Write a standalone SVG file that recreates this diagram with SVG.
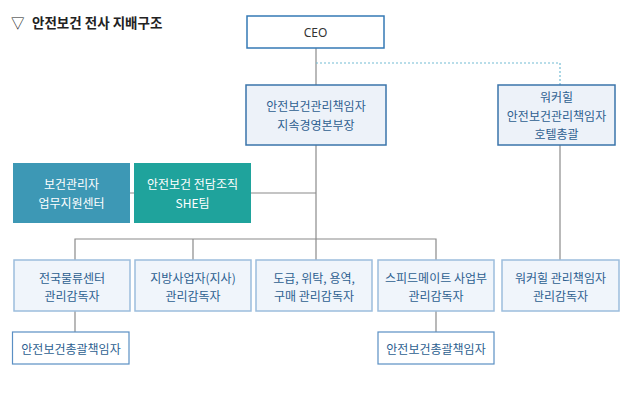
<svg xmlns="http://www.w3.org/2000/svg" width="641" height="410" viewBox="0 0 641 410">
<style>
text{font-family:"Noto Sans CJK KR","Noto Sans",sans-serif;font-size:12px;text-anchor:middle;dominant-baseline:central}
.t{fill:#2d5f90}
.w{fill:#ffffff}
.b1{fill:#edf2f9;stroke:#3a74aa;stroke-width:1.5}
.b3{fill:#f0f5fb;stroke:#9cbddd;stroke-width:1.5}
.b4{fill:#ffffff;stroke:#5a8fc4;stroke-width:1.2}
.ln{fill:none;stroke:#8a8a8a;stroke-width:1.2}
.dt{fill:none;stroke:#72bcd4;stroke-width:1.2;stroke-dasharray:2 2}
.title{font-size:13.5px;font-weight:bold;fill:#222;text-anchor:start}
</style>
<rect width="641" height="410" fill="#ffffff"/>
<text class="title" x="11" y="22" style="font-weight:normal">▽</text>
<text class="title" x="32" y="22">안전보건 전사 지배구조</text>
<g id="connectors">
<path class="ln" d="M316 48V260"/>
<path class="dt" d="M316 63H560V85"/>
<path class="ln" d="M560 145V260"/>
<path class="ln" d="M130 193H134M251 193H316"/>
<path class="ln" d="M75 260V239H436V260M193 239V260"/>
<path class="ln" d="M75 311V332M436 311V332"/>
</g>
<g id="ceo"><rect x="247" y="16" width="137" height="32" fill="#fff" stroke="#3579b5" stroke-width="1.5"/><text class="t" x="315.5" y="32" style="fill:#333;font-family:'Noto Sans',sans-serif">CEO</text></g>
<g id="cso"><rect class="b1" x="246" y="85" width="140" height="60"/><text class="t" x="316" y="105">안전보건관리책임자</text><text class="t" x="316" y="124">지속경영본부장</text></g>
<g id="walkerhill"><rect class="b1" x="498" y="85" width="117" height="60"/><text class="t" x="556.5" y="96.5">워커힐</text><text class="t" x="556.5" y="115">안전보건관리책임자</text><text class="t" x="556.5" y="133.5">호텔총괄</text></g>
<g id="health"><rect x="13" y="163" width="117" height="60" fill="#3d98b5"/><text class="w" x="71.5" y="183.5">보건관리자</text><text class="w" x="71.5" y="202">업무지원센터</text></g>
<g id="she"><rect x="134" y="163" width="117" height="60" fill="#1fa39c"/><text class="w" x="192.5" y="183.5">안전보건 전담조직</text><text class="w" x="192.5" y="202">SHE팀</text></g>
<g id="logistics"><rect class="b3" x="14" y="260" width="116" height="51"/><text class="t" x="72" y="277">전국물류센터</text><text class="t" x="72" y="295">관리감독자</text></g>
<g id="regional"><rect class="b3" x="135" y="260" width="116" height="51"/><text class="t" x="193" y="277">지방사업자(지사)</text><text class="t" x="193" y="295">관리감독자</text></g>
<g id="contract"><rect class="b3" x="256" y="260" width="116" height="51"/><text class="t" x="314" y="277">도급, 위탁, 용역,</text><text class="t" x="314" y="295">구매 관리감독자</text></g>
<g id="speedmate"><rect class="b3" x="378" y="260" width="116" height="51"/><text class="t" x="436" y="277">스피드메이트 사업부</text><text class="t" x="436" y="295">관리감독자</text></g>
<g id="wh-super"><rect class="b3" x="502" y="260" width="117" height="51"/><text class="t" x="560.5" y="277">워커힐 관리책임자</text><text class="t" x="560.5" y="295">관리감독자</text></g>
<g id="gen1"><rect class="b4" x="12.5" y="332" width="116.5" height="32"/><text class="t" x="71" y="348">안전보건총괄책임자</text></g>
<g id="gen2"><rect class="b4" x="378" y="332" width="116" height="32"/><text class="t" x="436" y="348">안전보건총괄책임자</text></g>
</svg>
